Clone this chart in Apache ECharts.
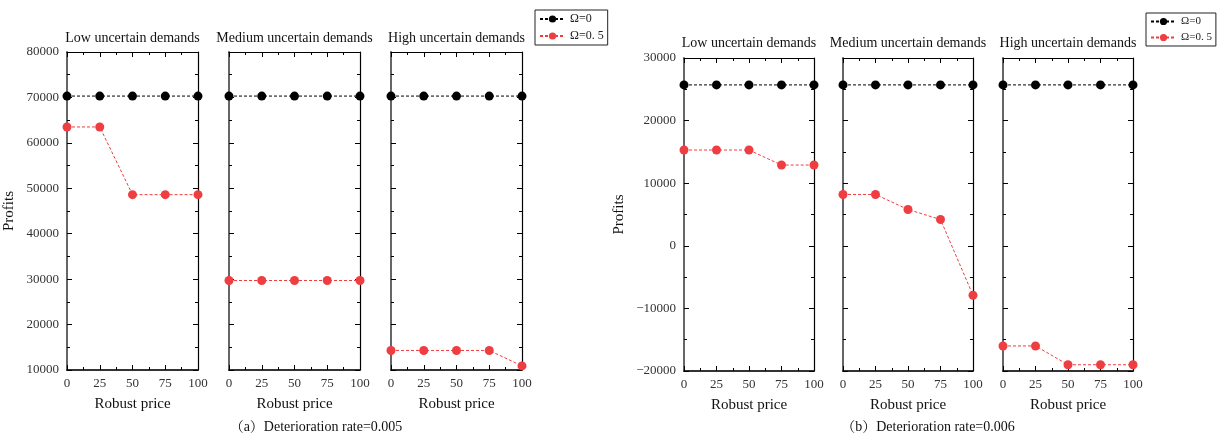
<!DOCTYPE html>
<html>
<head>
<meta charset="utf-8">
<title>Profits vs robust price</title>
<script src="https://cdn.jsdelivr.net/npm/echarts@6/dist/echarts.min.js"></script>
<style>
  html, body { margin: 0; padding: 0; background: #fff; }
  #chart { width: 1218px; height: 436px; }
</style>
</head>
<body>
<div id="chart"></div>
<script>
// Robust price levels on the x axis
const robustPrice = [0, 25, 50, 75, 100];
const panelTitles = ['Low uncertain demands', 'Medium uncertain demands', 'High uncertain demands'];
const seriesNames = ['Ω=0', 'Ω=0. 5'];

// (a) Deterioration rate = 0.005
const a_low_omega0 = [70300, 70300, 70300, 70300, 70300];
const a_low_omega05 = [63500, 63500, 48600, 48600, 48600];
const a_med_omega0 = [70300, 70300, 70300, 70300, 70300];
const a_med_omega05 = [29700, 29700, 29700, 29700, 29700];
const a_high_omega0 = [70300, 70300, 70300, 70300, 70300];
const a_high_omega05 = [14300, 14300, 14300, 14300, 10900];

// (b) Deterioration rate = 0.006
const b_low_omega0 = [25700, 25700, 25700, 25700, 25700];
const b_low_omega05 = [15300, 15300, 15300, 12900, 12900];
const b_med_omega0 = [25700, 25700, 25700, 25700, 25700];
const b_med_omega05 = [8200, 8200, 5800, 4200, -7900];
const b_high_omega0 = [25700, 25700, 25700, 25700, 25700];
const b_high_omega05 = [-16000, -16000, -19000, -19000, -19000];

const captions = ['（a）Deterioration rate=0.005', '（b）Deterioration rate=0.006'];

const SERIF = "'Liberation Serif', 'Times New Roman', 'Noto Serif CJK SC', 'Noto Sans CJK SC', serif";
const RED = '#ef3e42';

// Panel layout for both charts
const charts = [
  { top: 52, height: 318, lefts: [67, 229, 391], width: 131, yMin: 10000, yMax: 80000, titleY: 38,
    data: [[a_low_omega0, a_low_omega05], [a_med_omega0, a_med_omega05], [a_high_omega0, a_high_omega05]],
    profitsGap: 50, caption: { x: 316, y: 427 } },
  { top: 58, height: 313, lefts: [684, 843, 1003], width: 130, yMin: -20000, yMax: 30000, titleY: 43,
    data: [[b_low_omega0, b_low_omega05], [b_med_omega0, b_med_omega05], [b_high_omega0, b_high_omega05]],
    profitsGap: 57, caption: { x: 928, y: 427 } }
];

const grid = [], xAxis = [], yAxis = [], series = [], graphic = [];
const fmt = v => String(v).replace('-', '\u2212');

charts.forEach((c, ci) => {
  c.lefts.forEach((left, pi) => {
    const gi = grid.length;
    grid.push({ left: left, top: c.top, width: c.width, height: c.height });
    const xBase = {
      type: 'value', gridIndex: gi, min: 0, max: 100, interval: 25,
      axisTick: { show: true, inside: true, length: 5, lineStyle: { color: '#000', width: 1 } },
      minorTick: { show: true, splitNumber: 2, length: 3, lineStyle: { color: '#000', width: 1 } },
      splitLine: { show: false }
    };
    xAxis.push(Object.assign({}, xBase, {
      position: 'bottom',
      axisLine: { show: true, onZero: false, lineStyle: { color: '#333', width: 2 } },
      axisLabel: { show: true, margin: 7, fontFamily: SERIF, fontSize: 13, color: '#333' },
      name: 'Robust price', nameLocation: 'middle', nameGap: 27,
      nameTextStyle: { fontFamily: SERIF, fontSize: 15, color: '#111' }
    }));
    xAxis.push(Object.assign({}, xBase, {
      position: 'top',
      axisLine: { show: true, onZero: false, lineStyle: { color: '#000', width: 1.2 } },
      axisLabel: { show: false }
    }));
    const yBase = {
      type: 'value', gridIndex: gi, min: c.yMin, max: c.yMax, interval: 10000,
      axisTick: { show: true, inside: true, length: 5, lineStyle: { color: '#000', width: 1 } },
      minorTick: { show: true, splitNumber: 2, length: 3, lineStyle: { color: '#000', width: 1 } },
      splitLine: { show: false }
    };
    const leftY = Object.assign({}, yBase, {
      position: 'left',
      axisLine: { show: true, onZero: false, lineStyle: { color: '#666', width: 2 } },
      axisLabel: { show: pi === 0, margin: 8, fontFamily: SERIF, fontSize: 13, color: '#333', formatter: fmt }
    });
    if (pi === 0) {
      Object.assign(leftY, {
        name: 'Profits', nameLocation: 'middle', nameGap: c.profitsGap, nameRotate: 90,
        nameTextStyle: { fontFamily: SERIF, fontSize: 15, color: '#111' }
      });
    }
    yAxis.push(leftY);
    yAxis.push(Object.assign({}, yBase, {
      position: 'right',
      axisLine: { show: true, onZero: false, lineStyle: { color: '#000', width: 1.2 } },
      axisLabel: { show: false }
    }));

    const xi = gi * 2, yi = gi * 2;
    const pair = c.data[pi];
    [0, 1].forEach(si => {
      const color = si === 0 ? '#000' : RED;
      series.push({
        name: seriesNames[si], type: 'line', xAxisIndex: xi, yAxisIndex: yi,
        data: robustPrice.map((x, k) => [x, pair[si][k]]),
        symbol: 'circle', symbolSize: 9, clip: false,
        itemStyle: { color: color },
        lineStyle: { color: color, width: 1, type: [3, 2] },
        z: si === 0 ? 3 : 4
      });
    });

    graphic.push({
      type: 'text', x: left + c.width / 2, y: c.titleY,
      style: { text: panelTitles[pi], font: '14px ' + SERIF, fill: '#111',
               textAlign: 'center', textVerticalAlign: 'middle' }
    });
  });
  graphic.push({
    type: 'text', x: c.caption.x, y: c.caption.y,
    style: { text: captions[ci], font: '14px ' + SERIF, fill: '#111',
             textAlign: 'center', textVerticalAlign: 'middle' }
  });
});

const legendBase = {
  orient: 'vertical', data: seriesNames,
  borderColor: '#222', borderWidth: 1, borderRadius: 0,
  itemHeight: 9, itemGap: 5, itemWidth: 25
};

const option = {
  backgroundColor: '#fff',
  animation: false,
  grid: grid, xAxis: xAxis, yAxis: yAxis, series: series,
  legend: [
    Object.assign({}, legendBase, { left: 535, top: 10, padding: [3, 4],
      textStyle: { fontFamily: SERIF, fontSize: 12, color: '#222' } }),
    Object.assign({}, legendBase, { left: 1146, top: 13, padding: [3, 4],
      textStyle: { fontFamily: SERIF, fontSize: 11, color: '#222' } })
  ],
  graphic: graphic
};

const chart = echarts.init(document.getElementById('chart'), null, { renderer: 'canvas' });
chart.setOption(option);
</script>
</body>
</html>
